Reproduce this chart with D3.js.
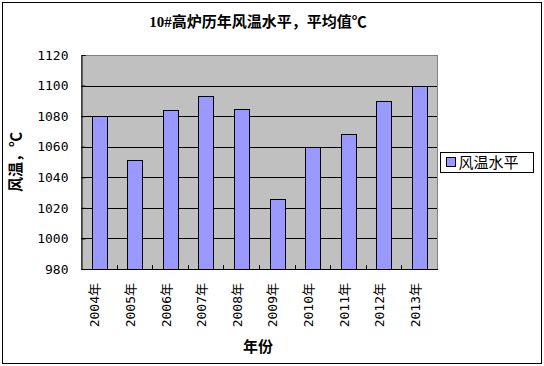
<!DOCTYPE html>
<html>
<head>
<meta charset="utf-8">
<script src="https://cdn.jsdelivr.net/npm/d3@7"></script>
<style>
  body { margin: 0; background: #fff; }
  text { font-family: "Liberation Serif", "Noto Sans CJK SC", serif; }
  .num { font-family: "DejaVu Sans Mono", "Noto Sans CJK SC", monospace; }
</style>
</head>
<body>
<div id="chart"></div>
<script>
  // values
  var years = ['2004年', '2005年', '2006年', '2007年', '2008年', '2009年', '2010年', '2011年', '2012年', '2013年'];
  var windTemp = [1080, 1051, 1084, 1093, 1085, 1026, 1060, 1068, 1090, 1100];
  var yTicks = [980, 1000, 1020, 1040, 1060, 1080, 1100, 1120];

  var width = 544, height = 366;
  var margin = {top: 55, right: 107, bottom: 97, left: 81};
  var w = width - margin.left - margin.right;
  var h = height - margin.top - margin.bottom;

  var svg = d3.select("#chart").append("svg")
        .attr("width", width)
        .attr("height", height);

  // outer border
  svg.append("rect")
    .attr("x", 2.5).attr("y", 2.5)
    .attr("width", 539).attr("height", 361)
    .attr("fill", "#fff")
    .attr("stroke", "#000")
    .attr("stroke-width", 1);

  var x = d3.scaleBand().domain(years).range([0, w]).paddingInner(0.59).paddingOuter(0.295);
  var y = d3.scaleLinear().domain([980, 1120]).range([h, 0]);

  var g = svg.append("g")
        .attr("transform", "translate(" + margin.left + "," + margin.top + ")");

  // plot area
  g.append("rect")
    .attr("x", 0.5).attr("y", 0.5)
    .attr("width", w).attr("height", h)
    .attr("fill", "#c0c0c0")
    .attr("stroke", "#808080")
    .attr("stroke-width", 1);

  // grid lines
  g.selectAll(".grid").data(yTicks.slice(1, -1)).enter().append("line")
    .attr("x1", 0).attr("x2", w)
    .attr("y1", function(d) { return Math.round(y(d)) + 0.5; })
    .attr("y2", function(d) { return Math.round(y(d)) + 0.5; })
    .attr("stroke", "#000");

  // bars
  g.selectAll(".bar").data(windTemp).enter().append("rect")
    .attr("x", function(d, i) { return Math.round(x(years[i])) + 0.5; })
    .attr("y", function(d) { return Math.round(y(d)) + 0.5; })
    .attr("width", Math.round(x.bandwidth()))
    .attr("height", function(d) { return h - Math.round(y(d)); })
    .attr("fill", "#9999ff")
    .attr("stroke", "#000")
    .attr("stroke-width", 1);

  // y axis
  var yAxis = d3.axisLeft(y).tickValues(yTicks).tickFormat(d3.format("d")).tickSize(-4).tickPadding(13);
  var ya = g.append("g").attr("transform", "translate(0.5,0)").call(yAxis);
  ya.select(".domain").attr("stroke", "#000");
  ya.selectAll("text")
    .attr("class", "num")
    .attr("font-size", "13px")
    .attr("fill", "#000");

  // x axis, ticks between categories
  var step = w / years.length;
  g.append("line")
    .attr("x1", 0).attr("x2", w + 1)
    .attr("y1", h + 0.5).attr("y2", h + 0.5)
    .attr("stroke", "#000");
  g.selectAll(".xtick").data(d3.range(1, years.length)).enter().append("line")
    .attr("x1", function(d) { return Math.round(d * step) + 0.5; })
    .attr("x2", function(d) { return Math.round(d * step) + 0.5; })
    .attr("y1", h).attr("y2", h - 4)
    .attr("stroke", "#000");

  g.selectAll(".xlabel").data(years).enter().append("text")
    .attr("class", "num")
    .attr("transform", function(d) {
      return "translate(" + (x(d) + x.bandwidth() / 2 + 0.5) + "," + (h + 14) + ") rotate(-90)";
    })
    .attr("text-anchor", "end")
    .attr("font-size", "13px")
    .text(function(d) { return d; });

  // titles
  svg.append("text")
    .attr("x", 258).attr("y", 27)
    .attr("text-anchor", "middle")
    .attr("font-size", "15px")
    .attr("font-weight", "bold")
    .text("10#高炉历年风温水平，平均值℃");

  svg.append("text")
    .attr("x", 258).attr("y", 352)
    .attr("text-anchor", "middle")
    .attr("font-size", "15px")
    .attr("font-weight", "bold")
    .text("年份");

  svg.append("text")
    .attr("transform", "translate(21,162) rotate(-90)")
    .attr("text-anchor", "middle")
    .attr("font-size", "15px")
    .attr("font-weight", "bold")
    .text("风温，℃");

  // legend
  var legend = svg.append("g").attr("transform", "translate(440.5,152.5)");
  legend.append("rect")
    .attr("width", 93).attr("height", 20)
    .attr("fill", "#fff").attr("stroke", "#000");
  legend.append("rect")
    .attr("x", 6).attr("y", 5)
    .attr("width", 9).attr("height", 9)
    .attr("fill", "#9999ff").attr("stroke", "#000");
  legend.append("text")
    .attr("x", 18).attr("y", 15.5)
    .attr("font-size", "15px")
    .text("风温水平");
</script>
</body>
</html>
